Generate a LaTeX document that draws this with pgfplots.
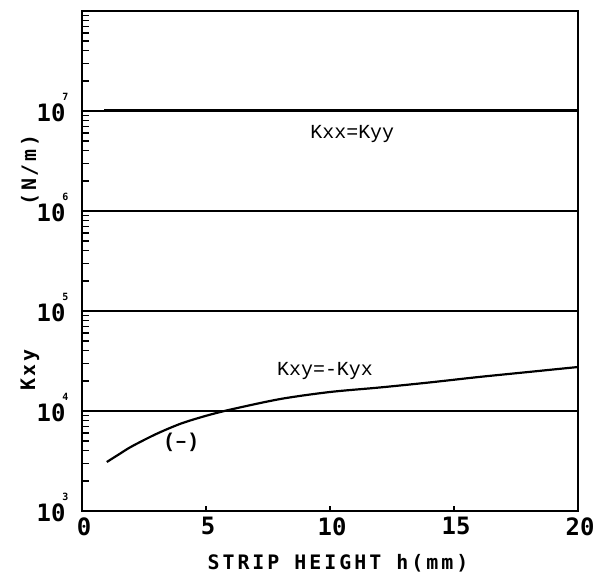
\documentclass[border=0pt]{standalone}
\usepackage{fontspec}
\setmainfont{DejaVu Sans Mono}
\newfontfamily\annot{Liberation Mono}
\usepackage{pgfplots}
\pgfplotsset{compat=1.18}
\newcommand{\ex}[1]{10\makebox[0pt][c]{\smash{\raisebox{21bp}{\fontsize{10}{10}\selectfont\bfseries #1}}}}
\begin{document}
\begin{tikzpicture}
\begin{axis}[name=ax, ymode=log, scale only axis, width=496bp, height=500bp,
  xmin=0, xmax=20, ymin=1e3, ymax=1e8,
  xtick={0,5,10,15,20},
  ytick={1e3,1e4,1e5,1e6,1e7},
  yticklabels={\ex{3},\ex{4},\ex{5},\ex{6},\ex{7}},
  minor ytick={2e3,3e3,4e3,5e3,6e3,7e3,8e3,9e3,2e4,3e4,4e4,5e4,6e4,7e4,8e4,9e4,2e5,3e5,4e5,5e5,6e5,7e5,8e5,9e5,2e6,3e6,4e6,5e6,6e6,7e6,8e6,9e6,2e7,3e7,4e7,5e7,6e7,7e7,8e7,9e7},
  ymajorgrids, major grid style={black, line width=1.2pt},
  axis line style={line width=1.8pt},
  tick align=inside, tick pos=left,
  major tick length=5bp, minor tick length=7bp,
  every tick/.style={black, line width=1.4pt},
  ticklabel style={font=\fontsize{24}{24}\selectfont\bfseries},
  yticklabel style={xshift=-13bp, yshift=-2bp, anchor=east},
  xticklabel style={yshift=-3bp, xshift=2bp},
  clip=false,
  /pgf/number format/assume math mode=true,
]
\addplot[black, line width=2.2pt, smooth] coordinates {
(1,3090) (1.5,3700) (2,4416) (3,5900) (4,7500) (5,8950) (6,10351) (8,13183) (10,15488) (12,17180) (14,19280) (16,21878) (18,24547) (20,27542)};
\addplot[black, line width=2.8pt] coordinates {(0.9,1.01e7) (20,1.01e7)};
\node[font=\annot\fontsize{20}{20}\selectfont] at (axis cs:10.9,5.9e6) {Kxx=Kyy};
\node[font=\annot\fontsize{20}{20}\selectfont] at (axis cs:9.8,2.5e4) {Kxy=-Kyx};
\node[font=\annot\fontsize{20}{20}\selectfont\bfseries] at (axis cs:4.0,4.9e3) {(–)};
\node[font=\fontsize{20}{20}\selectfont\bfseries\addfontfeature{LetterSpace=15}] at (rel axis cs:0.516,-0.104) {STRIP HEIGHT h(mm)};
\node[rotate=90, font=\fontsize{20}{20}\selectfont\bfseries\addfontfeature{LetterSpace=14}] at (rel axis cs:-0.105,0.282) {Kxy};
\node[rotate=90, font=\fontsize{20}{20}\selectfont\bfseries\addfontfeature{LetterSpace=14}] at (rel axis cs:-0.105,0.682) {(N/m)};
\end{axis}
\pgfresetboundingbox
\path ([xshift=-82bp,yshift=-67bp]ax.south west) rectangle ([xshift=21bp,yshift=11bp]ax.north east);
\end{tikzpicture}
\end{document}
